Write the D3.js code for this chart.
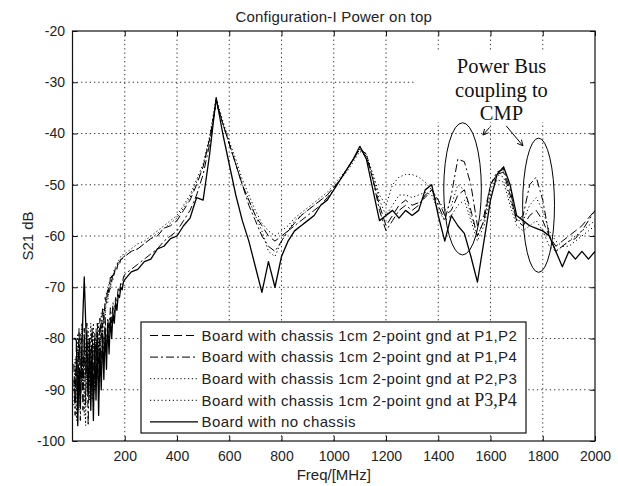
<!DOCTYPE html>
<html>
<head>
<meta charset="utf-8">
<script src="https://cdn.jsdelivr.net/npm/d3@7"></script>
<style>
  body { margin: 0; background: #fff; }
  svg { display: block; font-family: "Liberation Sans", Arial, sans-serif; }
</style>
</head>
<body>
<svg id="chart"></svg>
<script>
// ----- Data -----
const freq = [
  5, 10, 15, 20, 25, 30, 35, 40, 45, 50,
  55, 60, 65, 70, 75, 80, 85, 90, 95, 100,
  105, 110, 115, 120, 125, 130, 135, 140, 145, 150,
  155, 160, 165, 170, 175, 180, 185, 190, 195,
  200, 225, 250, 275, 300, 325, 350, 375, 400, 425,
  450, 475, 500, 525, 550, 575, 600, 625, 650, 675,
  700, 725, 750, 775, 800, 825, 850, 875, 900, 925,
  950, 975, 1000, 1025, 1050, 1075, 1100, 1125, 1150, 1175,
  1200, 1225, 1250, 1275, 1300, 1325, 1350, 1375, 1400, 1425,
  1450, 1475, 1500, 1525, 1550, 1575, 1600, 1625, 1650, 1675,
  1700, 1725, 1750, 1775, 1800, 1825, 1850, 1875, 1900, 1925,
  1950, 1975, 2000
];

const p1p2 = [
  -85, -92, -81, -90, -78, -88, -80, -94, -79, -87,
  -77, -91, -80, -86, -78, -89, -79, -84, -77, -85,
  -76, -80, -74, -77, -72, -73, -70, -71, -68, -69,
  -67, -67.5, -66, -66.5, -65, -65.5, -64.5, -64.5, -64,
  -64, -63, -62.5, -61.5, -60.5, -60, -58.5, -58, -57, -55,
  -53, -50, -46.5, -41, -34, -38, -42, -46, -50, -53,
  -56, -58, -60, -61, -60, -59, -57.5, -56, -55, -54,
  -53, -52, -50.5, -49, -47, -45, -43, -44.5, -49, -54,
  -58, -56, -54, -53, -54, -53.5, -52.5, -51, -53, -56,
  -55, -52, -51, -55, -60, -57, -50, -48, -47.5, -52,
  -57, -58, -56, -55, -57, -60, -62, -61, -60, -59,
  -58, -56.5, -55
];

const p1p4 = [
  -88, -95, -84, -92, -80, -96, -82, -90, -78, -93,
  -80, -97, -83, -89, -79, -94, -84, -88, -78, -91,
  -80, -86, -77, -84, -76, -82, -76, -79, -74, -77,
  -73, -75, -72, -73, -70, -71, -69, -69.5, -68,
  -67.5, -66.5, -65.5, -64.5, -63.5, -62.5, -61, -60, -59, -57,
  -55, -52, -48, -42, -33.5, -38, -42, -46, -50, -54,
  -57, -60, -62, -63, -61, -59, -58, -57, -56, -55,
  -54, -52.5, -51, -49, -47, -45, -43, -44, -49, -55,
  -59, -57, -55, -54, -55, -54, -52, -51, -54, -57,
  -52, -45, -45.5, -50, -58, -56, -50, -47.5, -47, -51,
  -57, -56, -50, -48.5, -53, -60, -63, -62, -61, -60.5,
  -59, -57, -55
];

const p2p3 = [
  -90, -84, -96, -82, -91, -79, -89, -83, -95, -81,
  -88, -78, -92, -82, -87, -77, -90, -80, -85, -77,
  -83, -75, -78, -74, -75, -71, -72, -69, -70, -67.5,
  -68, -66.5, -66, -65.5, -65, -64.5, -64, -64, -63.5,
  -63.5, -62.5, -61.5, -61, -60, -59, -58, -57, -56, -54,
  -52, -49, -46, -40.5, -33, -37.5, -41.5, -45, -49, -52,
  -55, -57.5, -59, -60, -59, -58, -56.5, -55.5, -54.5, -53.5,
  -52.5, -51.5, -50, -48.5, -47, -45, -43, -44, -48, -52,
  -54, -50, -48.5, -48, -48, -48.5, -49.5, -51, -53, -55,
  -54, -50, -51, -56, -60, -57, -51, -48, -48.5, -53,
  -57, -57, -54, -52.5, -55, -59, -61, -62, -61, -60,
  -59, -58, -57
];

const p3p4 = [
  -93, -86, -90, -79, -94, -85, -77, -88, -82, -97,
  -84, -80, -89, -77, -92, -81, -86, -78, -88, -80,
  -84, -77, -80, -75, -76, -72, -73, -70, -70.5, -68,
  -68.5, -67, -66.5, -66, -65.5, -65, -64.5, -64.5, -64,
  -64, -63, -62.5, -61.5, -60.5, -59.5, -58.5, -57.5, -56.5, -54.5,
  -52.5, -49.5, -46.5, -41, -33.5, -38, -42, -46, -50, -53,
  -56, -59, -63, -64, -61, -59, -57, -56, -55, -54,
  -53, -52, -50.5, -49, -47.5, -45.5, -43.5, -44.5, -48, -53,
  -56, -54, -52, -52, -52.5, -52, -51.5, -52, -55, -57,
  -56, -54, -53, -57, -61, -58, -52, -49, -49.5, -54,
  -58, -59, -58, -57, -59, -62, -63, -62, -62, -61,
  -60, -59, -58
];

const noChassis = [
  -80, -80, -80.5, -97, -86, -93, -84, -75, -68, -76,
  -83, -91, -80, -94, -83, -96, -81, -92, -80, -95,
  -82, -90, -79, -88, -78, -86, -77, -83, -76, -80,
  -75, -77, -73, -74.5, -71.5, -72, -70, -70.5, -69,
  -68.5, -67, -66.5, -65, -64.5, -62.5, -62, -60.5, -60, -58,
  -56.5, -52.5, -53, -44, -33, -40, -46, -52, -57, -61,
  -66, -71, -65, -70, -64, -61, -59, -58, -57, -56,
  -54, -53, -51, -49, -47, -45, -42.5, -45, -51, -57,
  -56, -55, -56.5, -55, -56, -55, -51, -50, -56, -61,
  -56, -58, -59.5, -64, -69, -61, -53, -48, -46.5, -50,
  -56, -57, -58, -58.5, -59, -60, -63, -66, -63, -64.5,
  -63, -64.5, -63
];

const seriesNames = [
  "Board with chassis 1cm 2-point gnd at P1,P2",
  "Board with chassis 1cm 2-point gnd at P1,P4",
  "Board with chassis 1cm 2-point gnd at P2,P3",
  "Board with chassis 1cm 2-point gnd at ",
  "Board with no chassis"
];
const seriesValues = [p1p2, p1p4, p2p3, p3p4, noChassis];

const xTicks = [200, 400, 600, 800, 1000, 1200, 1400, 1600, 1800, 2000];
const yTicks = [-100, -90, -80, -70, -60, -50, -40, -30, -20];

// annotation, in data units (MHz, dB)
const noteLines = ["Power Bus", "coupling to", "CMP"];
const ellipses = [
  { f: 1493, db: -50.8, rf: 72, rdb: 12.9 },
  { f: 1784, db: -54, rf: 61, rdb: 13.1 }
];
const arrows = [
  { f0: 1597, db0: -38.8, f1: 1571, db1: -40.3 },
  { f0: 1660, db0: -38.5, f1: 1724, db1: -42.4 }
];

// ----- Layout -----
const size = { width: 618, height: 486 };
const margin = { top: 31, right: 23, bottom: 45, left: 72.5 };
const width = size.width - margin.left - margin.right,
      height = size.height - margin.top - margin.bottom;

const dashes = ["8,4", "8,3,2,3", "1.2,2.6", "1.2,2.6", null];
const strokeW = [1, 1, 1, 1, 1.3];

const svg = d3.select("#chart")
    .attr("width", size.width)
    .attr("height", size.height);

const g = svg.append("g")
    .attr("transform", `translate(${margin.left},${margin.top})`);

const x = d3.scaleLinear().domain([0, 2000]).range([0, width]);
const y = d3.scaleLinear().domain([-100, -20]).range([height, 0]);

// plain numbers, hyphen minus, no thousands separator
const plain = d => String(d);

// ----- Grid -----
g.append("g").selectAll("line")
    .data(xTicks.filter(d => d < 2000))
    .join("line")
    .attr("x1", d => x(d)).attr("x2", d => x(d))
    .attr("y1", 0).attr("y2", height)
    .attr("stroke", "#333").attr("stroke-width", 1)
    .attr("stroke-dasharray", "1.3,3");

g.append("g").selectAll("line")
    .data(yTicks.filter(d => d > -100 && d < -20))
    .join("line")
    .attr("y1", d => y(d)).attr("y2", d => y(d))
    .attr("x1", 0).attr("x2", width)
    .attr("stroke", "#333").attr("stroke-width", 1)
    .attr("stroke-dasharray", "1.3,3");

// white box behind the annotation text
g.append("rect")
    .attr("x", x(1310)).attr("y", y(-24.1))
    .attr("width", x(1990) - x(1310))
    .attr("height", y(-37.8) - y(-24.1))
    .attr("fill", "#fff");

// ----- Axes (ticks point inward like MATLAB) -----
const xAxis = g.append("g")
    .attr("transform", `translate(0,${height})`)
    .call(d3.axisBottom(x).tickValues(xTicks).tickFormat(plain).tickSize(-5).tickPadding(10));
const yAxis = g.append("g")
    .call(d3.axisLeft(y).tickValues(yTicks).tickFormat(plain).tickSize(-5).tickPadding(7.5));
g.append("g")
    .call(d3.axisTop(x).tickValues(xTicks).tickSize(-5).tickFormat(""));
g.append("g")
    .attr("transform", `translate(${width},0)`)
    .call(d3.axisRight(y).tickValues(yTicks).tickSize(-5).tickFormat(""));

g.selectAll(".domain").remove();
g.selectAll(".tick line").attr("stroke", "#111");
[xAxis, yAxis].forEach(a => a.selectAll("text")
    .attr("font-size", 14)
    .attr("font-family", "Liberation Sans, Arial, sans-serif")
    .attr("fill", "#222"));

g.append("rect")
    .attr("width", width).attr("height", height)
    .attr("fill", "none").attr("stroke", "#111").attr("stroke-width", 1.2);

// ----- Curves -----
svg.append("defs").append("clipPath").attr("id", "plot-clip")
    .append("rect").attr("width", width).attr("height", height);

const line = d3.line()
    .x((d, i) => x(freq[i]))
    .y(d => y(d));

g.append("g").attr("clip-path", "url(#plot-clip)")
    .selectAll("path")
    .data(seriesValues)
    .join("path")
    .attr("fill", "none")
    .attr("stroke", "#000")
    .attr("stroke-width", (d, i) => strokeW[i])
    .attr("stroke-dasharray", (d, i) => dashes[i])
    .attr("stroke-linejoin", "round")
    .attr("d", line);

// ----- Annotation -----
const marker = svg.select("defs").append("marker")
    .attr("id", "arrow-head")
    .attr("viewBox", "0 0 10 10")
    .attr("refX", 9).attr("refY", 5)
    .attr("markerWidth", 7).attr("markerHeight", 7)
    .attr("markerUnits", "userSpaceOnUse")
    .attr("orient", "auto");
marker.append("path")
    .attr("d", "M1,1 L9,5 L1,9")
    .attr("fill", "none").attr("stroke", "#000").attr("stroke-width", 1.3);

g.append("g").selectAll("ellipse")
    .data(ellipses)
    .join("ellipse")
    .attr("cx", d => x(d.f)).attr("cy", d => y(d.db))
    .attr("rx", d => x(d.f + d.rf) - x(d.f))
    .attr("ry", d => y(d.db - d.rdb) - y(d.db))
    .attr("fill", "none").attr("stroke", "#000").attr("stroke-width", 1);

g.append("g").selectAll("line")
    .data(arrows)
    .join("line")
    .attr("x1", d => x(d.f0)).attr("y1", d => y(d.db0))
    .attr("x2", d => x(d.f1)).attr("y2", d => y(d.db1))
    .attr("stroke", "#000").attr("stroke-width", 1)
    .attr("marker-end", "url(#arrow-head)");

g.append("g").selectAll("text")
    .data(noteLines)
    .join("text")
    .attr("x", x(1642))
    .attr("y", (d, i) => y(-28.2) + i * 23.5)
    .attr("text-anchor", "middle")
    .attr("font-family", "Liberation Serif, Times New Roman, serif")
    .attr("font-size", 20.5)
    .attr("fill", "#111")
    .text(d => d);

// ----- Legend -----
const legend = g.append("g")
    .attr("transform", `translate(${141 - margin.left},${322 - margin.top})`);

legend.append("rect")
    .attr("width", 385).attr("height", 111)
    .attr("fill", "#fff").attr("stroke", "#111").attr("stroke-width", 1.2);

const rows = legend.selectAll(".row")
    .data(seriesNames)
    .join("g")
    .attr("class", "row")
    .attr("transform", (d, i) => `translate(0,${13.5 + i * 21.6})`);

rows.append("line")
    .attr("x1", 9).attr("x2", 57)
    .attr("stroke", "#000")
    .attr("stroke-width", (d, i) => strokeW[i])
    .attr("stroke-dasharray", (d, i) => dashes[i]);

const labels = rows.append("text")
    .attr("x", 60.5).attr("dy", "0.35em")
    .attr("font-size", 15)
    .attr("letter-spacing", 0.4)
    .attr("fill", "#222")
    .text(d => d);

labels.filter((d, i) => i === 3)
    .append("tspan")
    .attr("font-family", "Liberation Serif, Times New Roman, serif")
    .attr("font-size", 18)
    .attr("letter-spacing", 0)
    .text("P3,P4");

// ----- Titles -----
svg.append("text")
    .attr("x", margin.left + width / 2).attr("y", 22)
    .attr("text-anchor", "middle")
    .attr("font-size", 15).attr("letter-spacing", 0.2)
    .attr("fill", "#222")
    .text("Configuration-I Power on top");

svg.append("text")
    .attr("x", margin.left + width / 2).attr("y", 480)
    .attr("text-anchor", "middle")
    .attr("font-size", 15)
    .attr("fill", "#222")
    .text("Freq/[MHz]");

svg.append("text")
    .attr("transform", `translate(33,${margin.top + height / 2}) rotate(-90)`)
    .attr("text-anchor", "middle")
    .attr("font-size", 15)
    .attr("fill", "#222")
    .text("S21 dB");
</script>
</body>
</html>
